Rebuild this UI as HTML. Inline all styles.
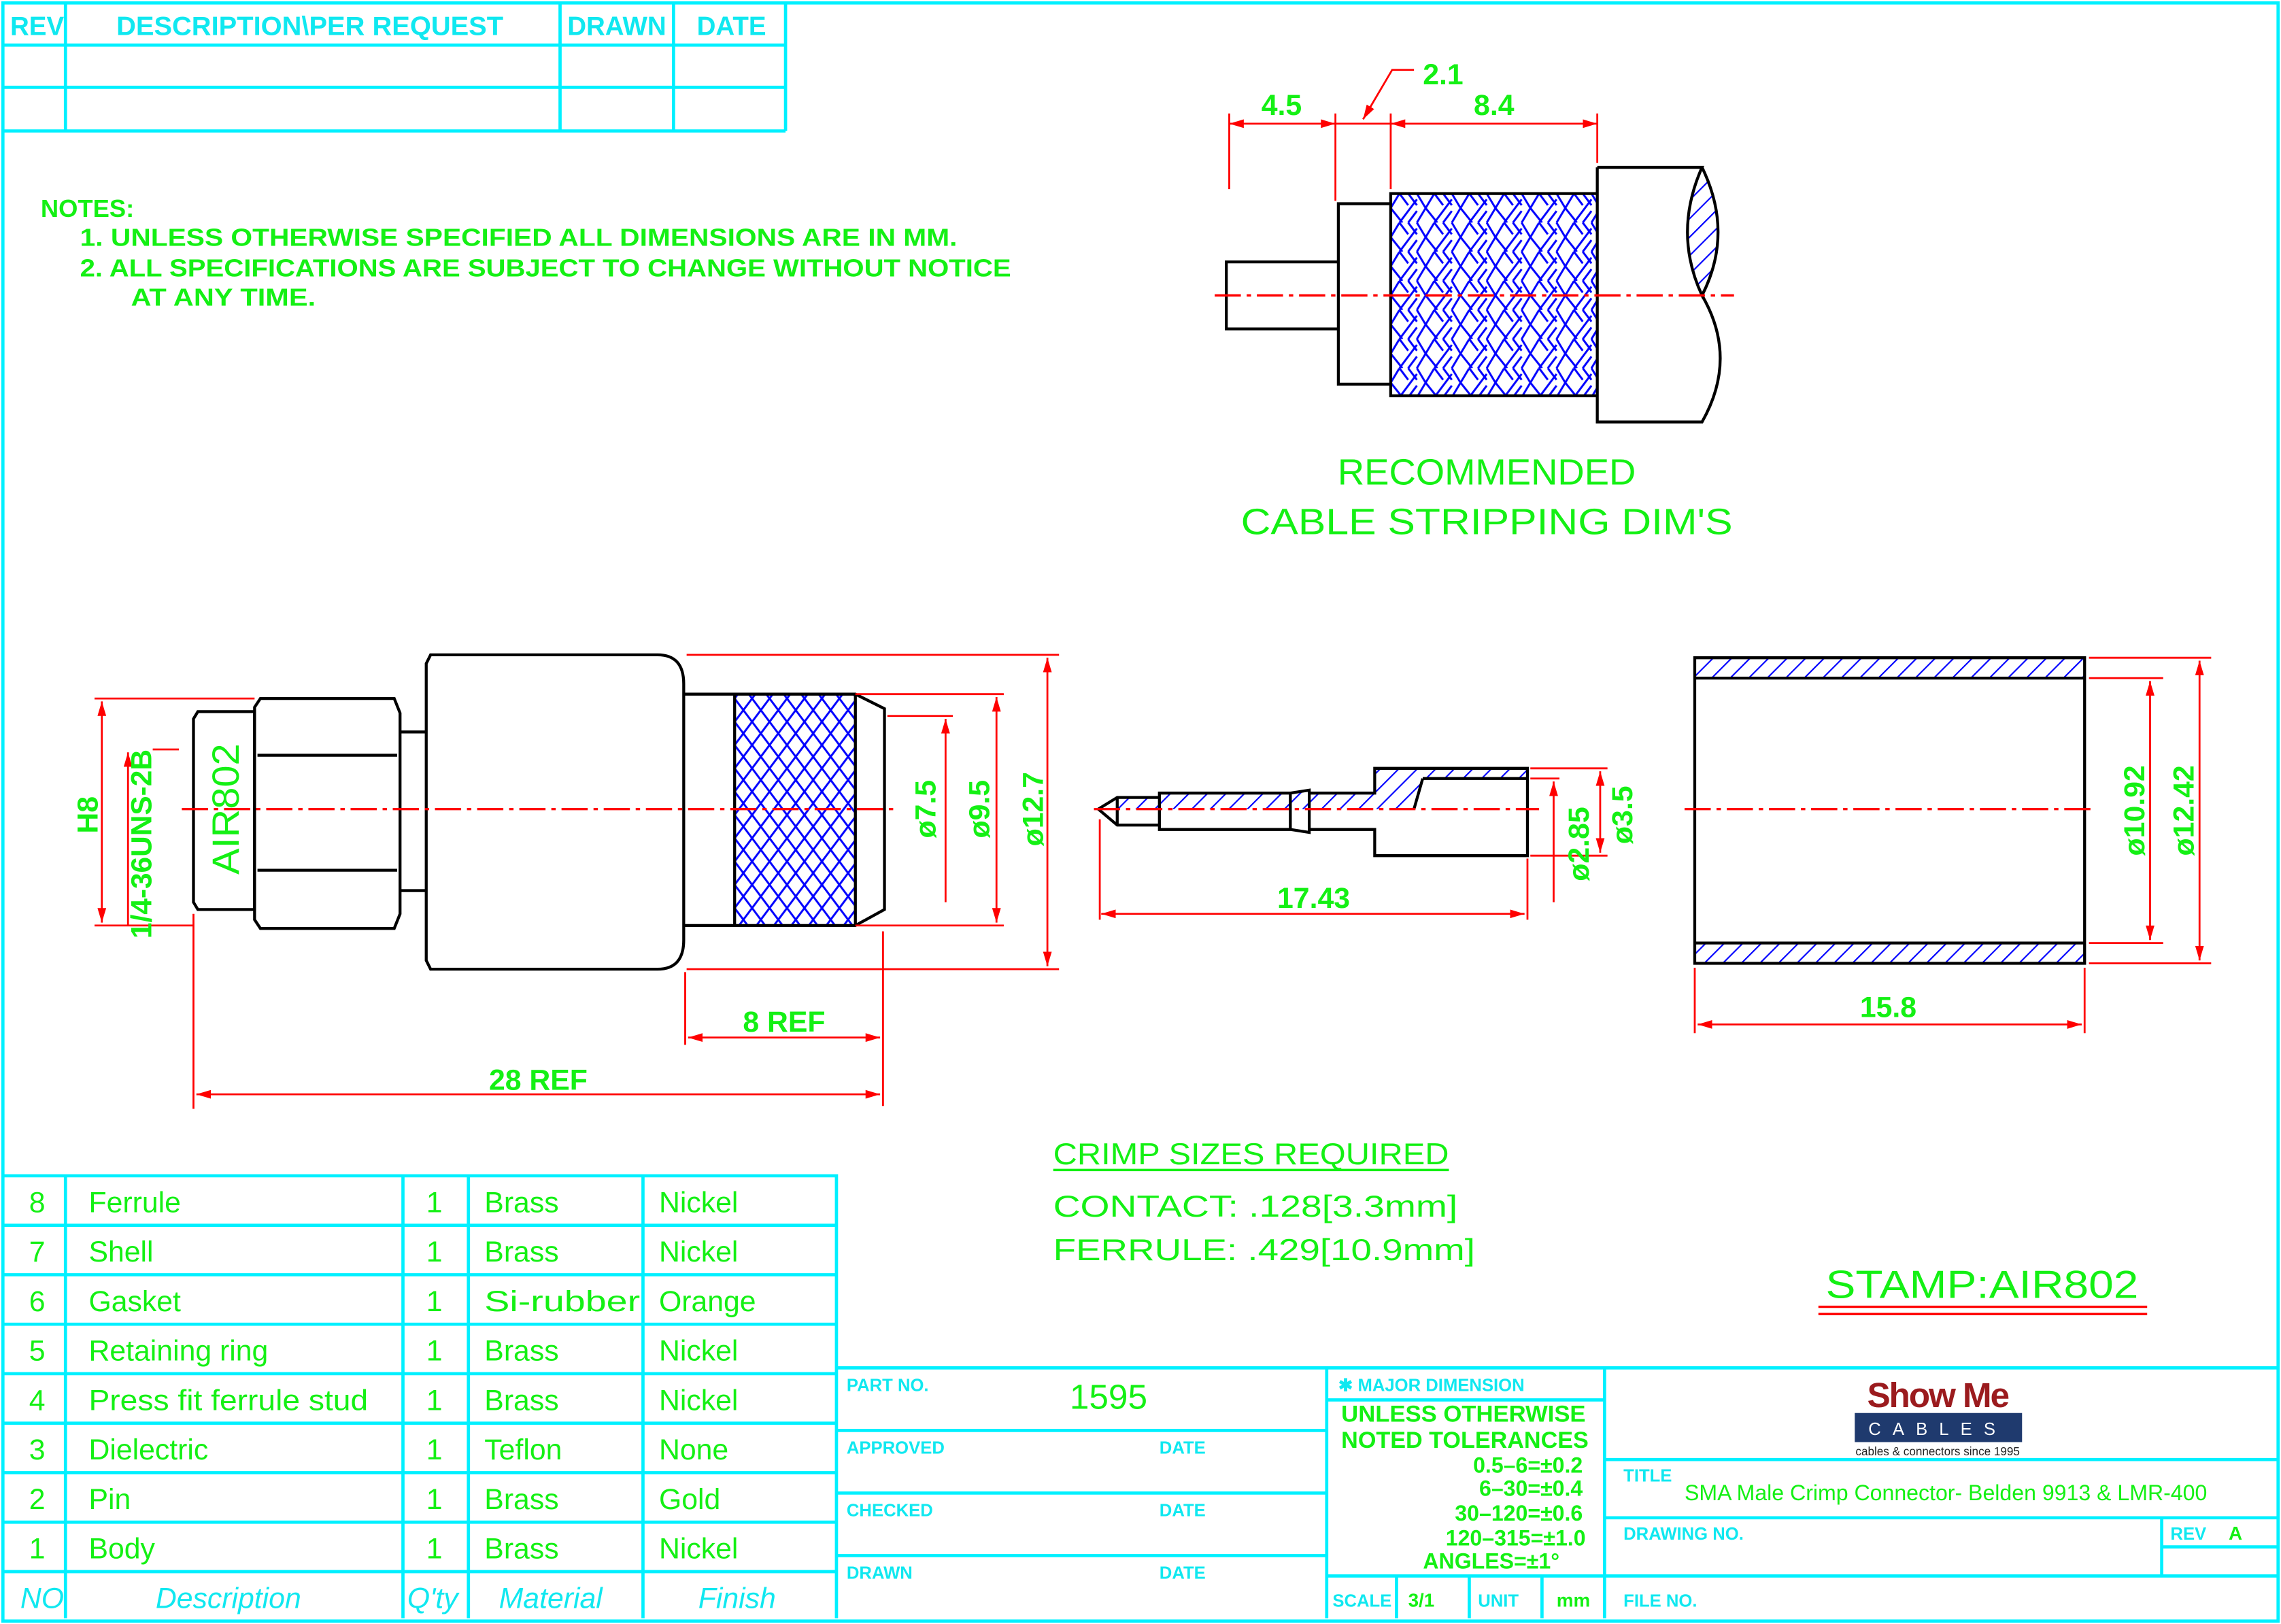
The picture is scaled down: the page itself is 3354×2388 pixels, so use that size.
<!DOCTYPE html>
<html><head><meta charset="utf-8"><style>
html,body{margin:0;padding:0;background:#fff;}
svg{display:block;}
text{font-family:"Liberation Sans",sans-serif;}
.g{fill:#14f014;}
.c{fill:#10e8f0;}
.cy{stroke:#00f0ff;stroke-width:2.2;fill:none;}
.k{stroke:#000;stroke-width:2;fill:none;}
.r{stroke:#f00;stroke-width:1.3;fill:none;}
.cl{stroke:#f00;stroke-width:1.6;fill:none;stroke-dasharray:18 4 3 4;}
</style></head><body>
<svg width="3354" height="2388" viewBox="0 0 1568 1116" preserveAspectRatio="none" xmlns="http://www.w3.org/2000/svg">
<defs>
<marker id="a" viewBox="0 0 10 6" refX="10" refY="3" markerWidth="10" markerHeight="6" markerUnits="userSpaceOnUse" orient="auto-start-reverse"><path d="M0,0L10,3L0,6Z" fill="#f00"/></marker>
<pattern id="hatch" width="9" height="9" patternUnits="userSpaceOnUse" patternTransform="rotate(45)"><line x1="0" y1="0" x2="0" y2="9" stroke="#00f" stroke-width="2"/></pattern>
<pattern id="knurl" width="12" height="16" patternUnits="userSpaceOnUse" x="505" y="480"><path d="M0,0L12,16M12,0L0,16" stroke="#00f" stroke-width="1.4"/></pattern>
<pattern id="braid" width="24" height="20" patternUnits="userSpaceOnUse" x="956" y="133"><path d="M0,10L6,0M6,20L18,4M12,20L18,12M18,20L24,10M24,10L18,0M12,0L18,8M0,10L8,20M6,0L12,8" stroke="#00f" stroke-width="1.4" fill="none"/></pattern>
</defs>
<rect x="0" y="0" width="1568" height="1116" fill="#fff"/>
<rect x="2" y="2" width="1564" height="1112" class="cy"/>
<path class="cy" d="M3,31H540M3,60H540M3,90H540M540,3V90M45,3V90M385,3V90M463,3V90"/>
<text x="7" y="24" class="c" font-size="18" font-weight="bold">REV</text>
<text x="80" y="24" class="c" font-size="18" font-weight="bold" textLength="266" lengthAdjust="spacingAndGlyphs">DESCRIPTION\PER REQUEST</text>
<text x="390" y="24" class="c" font-size="18" font-weight="bold">DRAWN</text>
<text x="479" y="24" class="c" font-size="18" font-weight="bold">DATE</text>
<g class="g" font-size="17" font-weight="bold">
<text x="28" y="149">NOTES:</text>
<text x="55" y="169" textLength="603" lengthAdjust="spacingAndGlyphs">1. UNLESS OTHERWISE SPECIFIED ALL DIMENSIONS ARE IN MM.</text>
<text x="55" y="190" textLength="640" lengthAdjust="spacingAndGlyphs">2. ALL SPECIFICATIONS ARE SUBJECT TO CHANGE WITHOUT NOTICE</text>
<text x="90" y="210" textLength="127" lengthAdjust="spacingAndGlyphs">AT ANY TIME.</text>
</g>
<rect x="956" y="133" width="142" height="139" fill="url(#braid)"/>
<path d="M1170,115 Q1150,160 1170,203 Q1192,160 1170,115Z" fill="url(#hatch)"/>
<path class="k" d="M843,180H920V226H843Z M920,140H956V264H920Z M956,133H1098V272H956Z M1098,115H1170 Q1150,160 1170,203 Q1192,160 1170,115 M1170,203 Q1195,246 1170,290H1098V115"/>
<path class="cl" d="M835,203H1192"/>
<path class="r" d="M845,78V130M918,78V138M956,78V130M1098,78V112"/>
<path class="r" marker-start="url(#a)" marker-end="url(#a)" d="M845,85H918"/>
<path class="r" marker-start="url(#a)" marker-end="url(#a)" d="M956,85H1098"/>
<path class="r" d="M918,85H956"/>
<path class="r" marker-end="url(#a)" d="M972,48H957L937,82"/>
<g class="g" font-size="20" font-weight="bold" text-anchor="middle">
<text x="881" y="79">4.5</text><text x="1027" y="79">8.4</text><text x="992" y="58">2.1</text>
</g>
<g class="g" font-size="25" text-anchor="middle">
<text x="1022" y="333" textLength="205" lengthAdjust="spacingAndGlyphs">RECOMMENDED</text>
<text x="1022" y="367" textLength="338" lengthAdjust="spacingAndGlyphs">CABLE STRIPPING DIM'S</text>
</g>
<rect x="505" y="477" width="83" height="159" fill="url(#knurl)"/>
<path class="k" d="M136,489H175V625H136L133,620V494Z"/>
<path class="k" d="M175,486L179,480H271L275,490V628L271,638H179L175,632Z M177,519H273M177,598H273"/>
<path class="k" d="M275,503H293M275,612H293"/>
<path class="k" d="M296,450H452Q470,450 470,470V646Q470,666 452,666H296L293,660V456Z"/>
<path class="k" d="M470,477H588L608,487V625L588,636H470 M505,477V636M588,477V636"/>
<path class="cl" d="M125,556H614"/>
<g class="r">
<path d="M65,480H175M65,636H133M105,515H123M105,636H120M133,628V762M471,668V718M607,640V760M472,450H728M588,477H690M610,492H655M588,636H690M472,666H728"/>
<path marker-start="url(#a)" marker-end="url(#a)" d="M70,482V634"/>
<path marker-end="url(#a)" d="M88,636V517"/>
<path marker-start="url(#a)" marker-end="url(#a)" d="M720,452V664"/>
<path marker-start="url(#a)" marker-end="url(#a)" d="M685,479V634"/>
<path marker-end="url(#a)" d="M650,620V494"/>
<path marker-start="url(#a)" marker-end="url(#a)" d="M473,713H605"/>
<path marker-start="url(#a)" marker-end="url(#a)" d="M135,752H605"/>
</g>
<g class="g" font-size="20" font-weight="bold">
<text transform="translate(67,560) rotate(-90)" text-anchor="middle">H8</text>
<text transform="translate(104,580) rotate(-90)" text-anchor="middle" textLength="130" lengthAdjust="spacingAndGlyphs">1/4-36UNS-2B</text>
<text transform="translate(164,556) rotate(-90)" text-anchor="middle" font-size="26" font-weight="normal" textLength="90" lengthAdjust="spacingAndGlyphs">AIR802</text>
<text transform="translate(643,556) rotate(-90)" text-anchor="middle">ø7.5</text>
<text transform="translate(680,556) rotate(-90)" text-anchor="middle">ø9.5</text>
<text transform="translate(717,556) rotate(-90)" text-anchor="middle">ø12.7</text>
<text x="539" y="709" text-anchor="middle">8 REF</text>
<text x="370" y="749" text-anchor="middle">28 REF</text>
</g>
<path d="M755,556L768,548H797V545L887,545L900,543V545H945V528H1050V535H978L970,556Z" fill="url(#hatch)"/>
<path class="k" d="M755,556L768,548H797V545H887L900,543V545H945V528H1050V588H945V570H900V572L887,570H797V567H768Z M768,548V567M797,545V570M887,545V570M900,543V572M978,535H1050M978,535L972,556"/>
<path class="cl" d="M752,556H1058"/>
<g class="r">
<path d="M756,563V632M1050,590V632M1052,528H1105M1052,535H1072M1052,588H1105"/>
<path marker-start="url(#a)" marker-end="url(#a)" d="M757,628H1048"/>
<path marker-end="url(#a)" d="M1068,620V537"/>
<path marker-start="url(#a)" marker-end="url(#a)" d="M1100,530V586"/>
</g>
<g class="g" font-size="20" font-weight="bold">
<text x="903" y="624" text-anchor="middle">17.43</text>
<text transform="translate(1092,580) rotate(-90)" text-anchor="middle">ø2.85</text>
<text transform="translate(1122,560) rotate(-90)" text-anchor="middle">ø3.5</text>
</g>
<rect x="1165" y="452" width="268" height="14" fill="url(#hatch)"/>
<rect x="1165" y="648" width="268" height="14" fill="url(#hatch)"/>
<path class="k" d="M1165,452H1433V662H1165Z M1165,466H1433M1165,648H1433"/>
<path class="cl" d="M1158,556H1440"/>
<g class="r">
<path d="M1436,452H1520M1436,466H1487M1436,648H1487M1436,662H1520M1165,665V710M1433,665V710"/>
<path marker-start="url(#a)" marker-end="url(#a)" d="M1478,468V646"/>
<path marker-start="url(#a)" marker-end="url(#a)" d="M1512,454V660"/>
<path marker-start="url(#a)" marker-end="url(#a)" d="M1167,704H1431"/>
</g>
<g class="g" font-size="20" font-weight="bold">
<text x="1298" y="699" text-anchor="middle">15.8</text>
<text transform="translate(1474,557) rotate(-90)" text-anchor="middle">ø10.92</text>
<text transform="translate(1508,557) rotate(-90)" text-anchor="middle">ø12.42</text>
</g>
<g class="g" font-size="21">
<text x="724" y="800" textLength="272" lengthAdjust="spacingAndGlyphs">CRIMP SIZES REQUIRED</text>
<text x="724" y="836" textLength="278" lengthAdjust="spacingAndGlyphs">CONTACT: .128[3.3mm]</text>
<text x="724" y="866" textLength="290" lengthAdjust="spacingAndGlyphs">FERRULE: .429[10.9mm]</text>
<text x="1255" y="892" font-size="27" textLength="215" lengthAdjust="spacingAndGlyphs">STAMP:AIR802</text>
</g>
<path d="M724,804H996" stroke="#14f014" stroke-width="1.6"/>
<path d="M1250,898H1476M1250,903H1476" stroke="#f00" stroke-width="1.6"/>
<path class="cy" d="M3,808H575V1112M3,842H575M3,876H575M3,910H575M3,944H575M3,978H575M3,1012H575M3,1046H575M3,1080H575M45,808V1112M277,808V1112M322,808V1112M442,808V1112"/>
<g class="g" font-size="20">
<text x="20" y="833">8</text><text x="61" y="833">Ferrule</text><text x="293" y="833">1</text><text x="333" y="833">Brass</text><text x="453" y="833">Nickel</text>
<text x="20" y="867">7</text><text x="61" y="867">Shell</text><text x="293" y="867">1</text><text x="333" y="867">Brass</text><text x="453" y="867">Nickel</text>
<text x="20" y="901">6</text><text x="61" y="901">Gasket</text><text x="293" y="901">1</text><text x="333" y="901" textLength="107" lengthAdjust="spacingAndGlyphs">Si-rubber</text><text x="453" y="901">Orange</text>
<text x="20" y="935">5</text><text x="61" y="935">Retaining ring</text><text x="293" y="935">1</text><text x="333" y="935">Brass</text><text x="453" y="935">Nickel</text>
<text x="20" y="969">4</text><text x="61" y="969" textLength="192" lengthAdjust="spacingAndGlyphs">Press fit ferrule stud</text><text x="293" y="969">1</text><text x="333" y="969">Brass</text><text x="453" y="969">Nickel</text>
<text x="20" y="1003">3</text><text x="61" y="1003">Dielectric</text><text x="293" y="1003">1</text><text x="333" y="1003">Teflon</text><text x="453" y="1003">None</text>
<text x="20" y="1037">2</text><text x="61" y="1037">Pin</text><text x="293" y="1037">1</text><text x="333" y="1037">Brass</text><text x="453" y="1037">Gold</text>
<text x="20" y="1071">1</text><text x="61" y="1071">Body</text><text x="293" y="1071">1</text><text x="333" y="1071">Brass</text><text x="453" y="1071">Nickel</text>
</g>
<g class="c" font-size="20" font-style="italic">
<text x="14" y="1105">NO</text><text x="107" y="1105">Description</text><text x="280" y="1105">Q'ty</text><text x="343" y="1105">Material</text><text x="480" y="1105">Finish</text>
</g>
<path class="cy" d="M575,940H1566M912,940V1112M1103,940V1112M575,983H912M575,1026H912M575,1069H912M912,962H1103M912,1083H1566M960,1083V1112M1010,1083V1112M1060,1083V1112M1103,1003H1566M1103,1043H1566M1486,1043V1083M1486,1063H1566"/>
<g class="c" font-size="12" font-weight="bold">
<text x="582" y="956">PART NO.</text>
<text x="582" y="999">APPROVED</text><text x="797" y="999">DATE</text>
<text x="582" y="1042">CHECKED</text><text x="797" y="1042">DATE</text>
<text x="582" y="1085">DRAWN</text><text x="797" y="1085">DATE</text>
<text x="920" y="956">✱ MAJOR DIMENSION</text>
<text x="916" y="1104">SCALE</text><text x="1016" y="1104">UNIT</text>
<text x="1116" y="1018">TITLE</text>
<text x="1116" y="1058">DRAWING NO.</text>
<text x="1492" y="1058">REV</text>
<text x="1116" y="1104">FILE NO.</text>
</g>
<g class="g" font-weight="bold">
<text x="968" y="1104" font-size="13">3/1</text>
<text x="1070" y="1104" font-size="13">mm</text>
<text x="1532" y="1058" font-size="13">A</text>
</g>
<text x="762" y="968" class="g" font-size="24" text-anchor="middle">1595</text>
<g class="g" font-size="16" font-weight="bold">
<text x="922" y="977" textLength="168" lengthAdjust="spacingAndGlyphs">UNLESS OTHERWISE</text>
<text x="922" y="995" textLength="170" lengthAdjust="spacingAndGlyphs">NOTED TOLERANCES</text>
</g>
<g class="g" font-size="15" font-weight="bold" text-anchor="end">
<text x="1088" y="1012">0.5–6=±0.2</text>
<text x="1088" y="1028">6–30=±0.4</text>
<text x="1088" y="1045">30–120=±0.6</text>
<text x="1090" y="1062">120–315=±1.0</text>
<text x="1072" y="1078">ANGLES=±1°</text>
</g>
<text x="1158" y="1031" class="g" font-size="15">SMA Male Crimp Connector- Belden 9913 &amp; LMR-400</text>
<text x="1332" y="967" font-size="24" font-weight="bold" fill="#9b1b1e" text-anchor="middle" letter-spacing="-1">Show Me</text>
<rect x="1275" y="971" width="115" height="20" fill="#1f3a6e"/>
<text x="1332" y="986" font-size="12" fill="#fff" text-anchor="middle" letter-spacing="8">CABLES</text>
<text x="1332" y="1000" font-size="8" fill="#222" text-anchor="middle">cables &amp; connectors since 1995</text>
</svg>
</body></html>
